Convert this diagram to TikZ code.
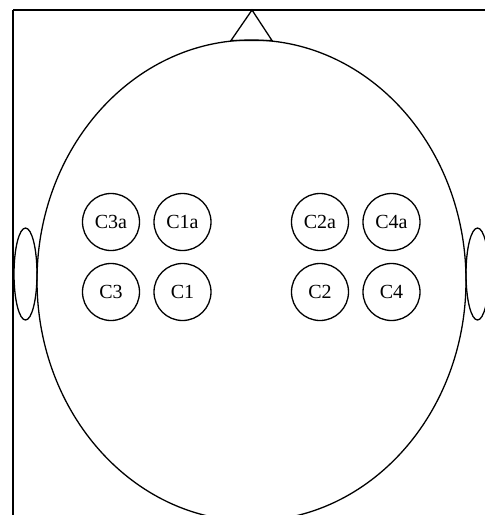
\documentclass[tikz,border=0pt]{standalone}
\usepackage{fontspec}
\setmainfont{Liberation Serif}
\begin{document}
\begin{tikzpicture}[
    x=1pt, y=-1pt,
    outline/.style={line width=1.3pt},
    electrode/.style={circle, draw, line width=1.3pt, minimum size=57pt, inner sep=0pt, font=\fontsize{20}{24}\selectfont}
]
\useasboundingbox (0,0) rectangle (485,515);
\clip (0,0) rectangle (485,515);
% Frame
\draw[outline] (13,10) -- (500,10);
\draw[outline] (13,10) -- (13,530);
% Head, nose and ears
\draw[outline] (251.5,280.5) ellipse [x radius=214.5pt, y radius=240.5pt];
\draw[outline] (231,40.5) -- (252,10) -- (272,40.5) -- cycle;
\draw[outline] (25.5,274) ellipse [x radius=11.5pt, y radius=46pt];
\draw[outline] (477.5,274) ellipse [x radius=11.5pt, y radius=46pt];
% Electrodes, anterior row
\node[electrode] (c3a) at (111,222) {C3a};
\node[electrode] (c1a) at (182.5,222) {C1a};
\node[electrode] (c2a) at (320,222) {C2a};
\node[electrode] (c4a) at (391.5,222) {C4a};
% Electrodes, central row
\node[electrode] (c3) at (111,292) {C3};
\node[electrode] (c1) at (182.5,292) {C1};
\node[electrode] (c2) at (320,292) {C2};
\node[electrode] (c4) at (391.5,292) {C4};
\end{tikzpicture}
\end{document}
